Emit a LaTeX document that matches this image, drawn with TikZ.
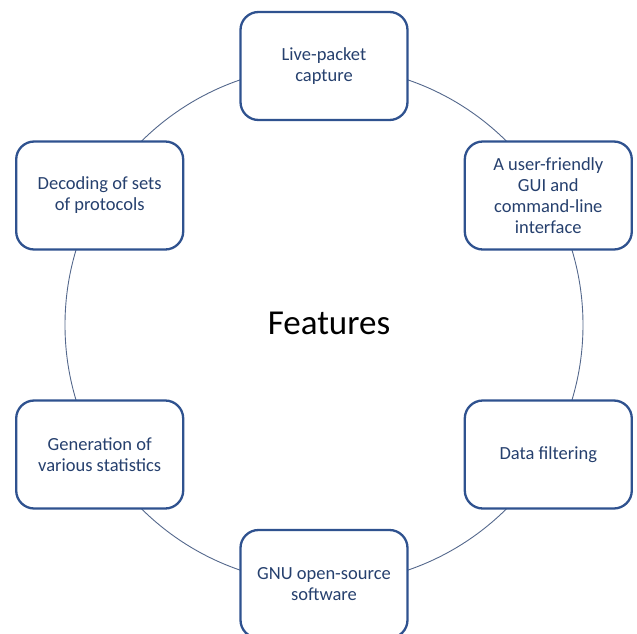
\documentclass[tikz,border=0pt]{standalone}
\usepackage{fontspec}
\setmainfont{Carlito}
\definecolor{boxline}{RGB}{47,82,143}
\definecolor{boxtext}{RGB}{38,64,110}
\definecolor{ringline}{RGB}{84,104,140}

\begin{document}
\begin{tikzpicture}[x=1pt,y=1pt,
   feature/.style={draw=boxline,line width=2.3pt,rounded corners=18pt,fill=white,
      minimum width=167pt,minimum height=108pt,align=center,text=boxtext,
      font=\fontsize{18.5}{21}\selectfont},
   ring/.style={draw=ringline,line width=0.9pt}]
\useasboundingbox (-324,-308) rectangle (313,325);
\node (feat) at (5,2) {\fontsize{35}{40}\selectfont Features};
\draw[ring] (0,0) circle (259);
\node[feature] (capture) at (90:259) {Live-packet\\capture};
\node[feature] (gui) at (30:259) {A user-friendly\\GUI and\\command-line\\interface};
\node[feature] (filter) at (-30:259) {Data filtering};
\node[feature] (gnu) at (-90:259) {GNU open-source\\software};
\node[feature] (stats) at (210:259) {Generation of\\various statistics};
\node[feature] (decode) at (150:259) {Decoding of sets\\of protocols};
\end{tikzpicture}
\end{document}
